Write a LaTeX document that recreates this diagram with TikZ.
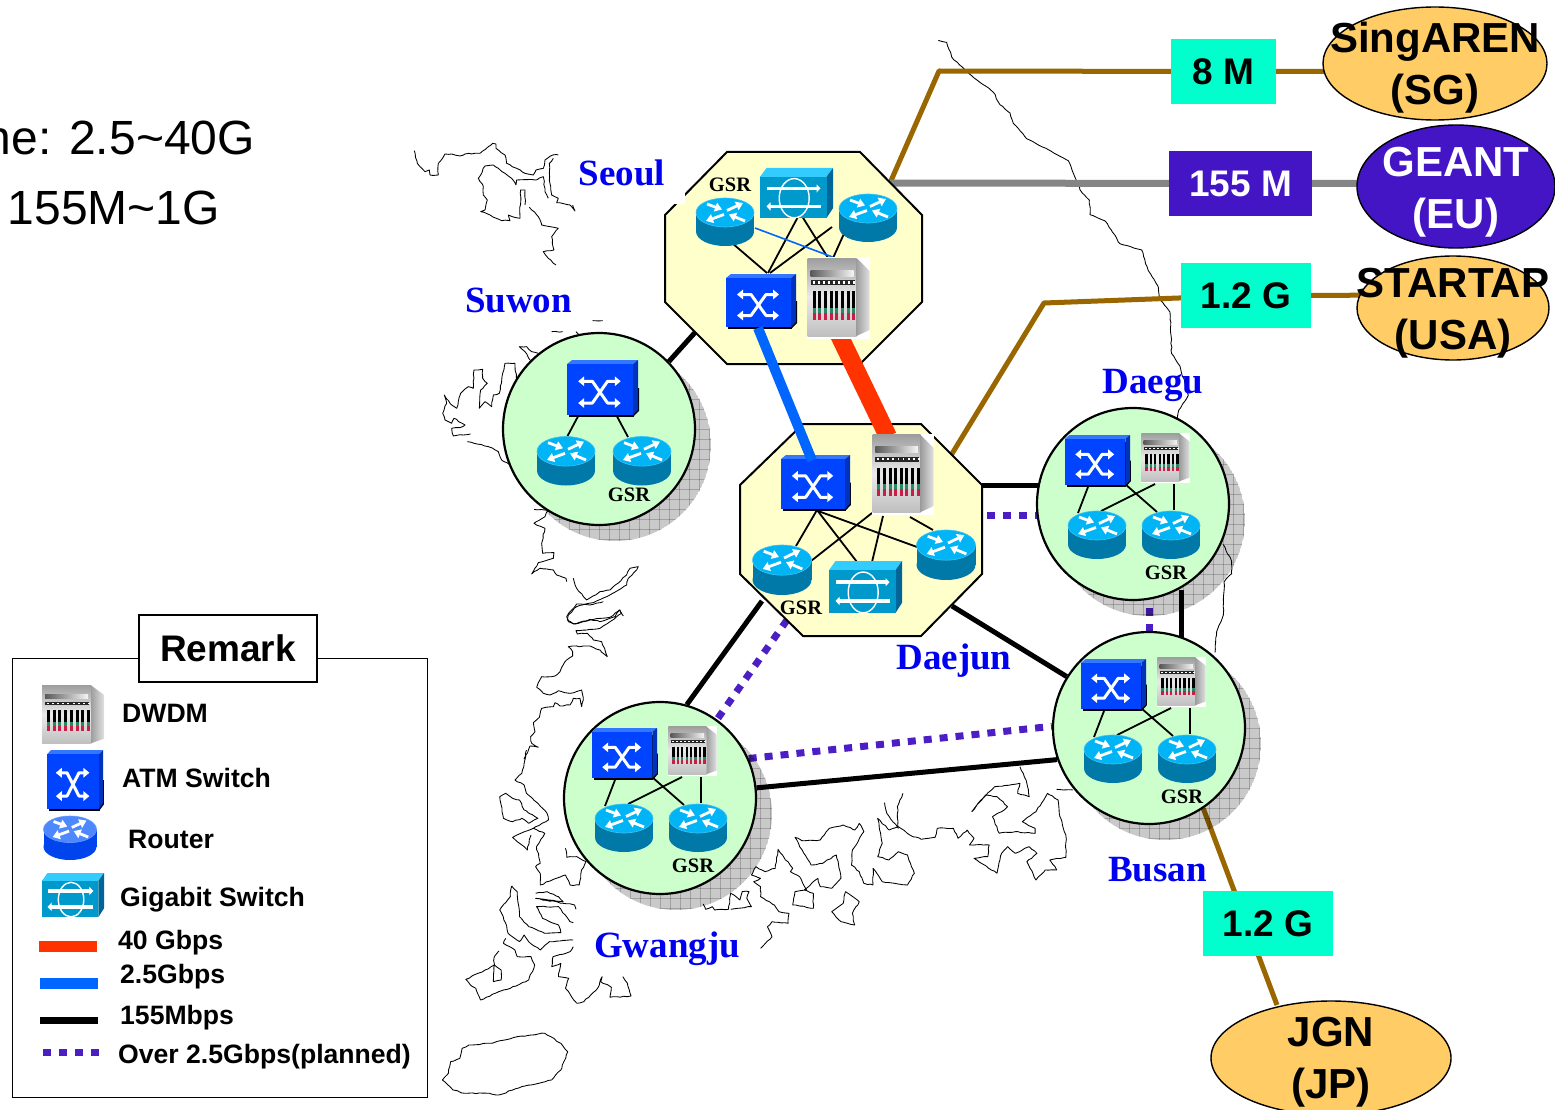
\documentclass[tikz,border=0pt]{standalone}
\usepackage{fontspec}
\setmainfont{Liberation Sans}
\newfontfamily\citysf{Liberation Serif}
\usetikzlibrary{arrows.meta,shapes.geometric,calc,decorations.pathmorphing}
\pgfdeclarelayer{paper}\pgfdeclarelayer{maplayer}\pgfdeclarelayer{trunk}\pgfdeclarelayer{shadowlayer}\pgfdeclarelayer{hublayer}\pgfdeclarelayer{wiring}
\pgfsetlayers{paper,maplayer,trunk,shadowlayer,hublayer,wiring,main}
\definecolor{hubyellow}{HTML}{FFFFCC}
\definecolor{hubgreen}{HTML}{CCFFCC}
\definecolor{linkbrown}{HTML}{996600}
\definecolor{linkgrey}{HTML}{858585}
\definecolor{linkblue}{HTML}{0066FF}
\definecolor{linkred}{HTML}{FF3300}
\definecolor{linkpurple}{HTML}{4C1FC4}
\definecolor{tealbox}{HTML}{00FFCC}
\definecolor{purplebox}{HTML}{4315C4}
\definecolor{peer}{HTML}{FFCC66}
\definecolor{citycol}{HTML}{0000F0}
\definecolor{rtop}{HTML}{00B4F5}
\definecolor{rbody}{HTML}{0078A8}
\definecolor{rrim}{HTML}{40C4F0}
\definecolor{atmfront}{HTML}{0044FF}
\definecolor{atmtop}{HTML}{3377FF}
\definecolor{atmside}{HTML}{0033BB}
\tikzset{
 pics/router/.style={code={
  \fill[rbody] (-29,-9.5) rectangle (29,9.5);
  \fill[rbody] (0,9.5) ellipse (29pt and 14.5pt);
  \fill[rtop,draw=rrim,line width=.6pt] (0,-9.5) ellipse (29pt and 14.5pt);
  \begin{scope}[white,line width=2.8pt,-{Triangle[length=7pt,width=9pt]}]
   \draw (-18,-18)--(-3,-12.5);
   \draw (2,-11.5)--(18,-19);
   \draw (-1,-7.5)--(-19,-1);
   \draw (20,-1)--(4,-7.5);
  \end{scope}
 }},
 pics/atm/.style={code={
  \fill[black] (-33,-20) rectangle (31,28);
  \fill[black] (30,28)--(36,22)--(36,0)--(30,0)--cycle;
  \fill[atmtop] (-35,-23)--(-30,-27)--(35,-27)--(30,-23)--cycle;
  \fill[atmside] (30,-23)--(35,-27)--(35,21)--(30,26)--cycle;
  \fill[atmfront] (-35,-23) rectangle (30,26);
  \begin{scope}[white,line width=3pt,{Triangle[length=6pt,width=9.5pt]}-{Triangle[length=6pt,width=9.5pt]},line join=round]
   \draw (-24,-6.5)--(-10,-6.5)--(5,14.5)--(18,14.5);
   \draw (18,-6.5)--(5,-6.5)--(-10,14.5)--(-24,14.5);
  \end{scope}
 }},
 pics/gigabit/.style={code={
  \fill[fill={rgb,255:red,51;green,204;blue,255}] (-36.5,-16.5)--(-30,-25.5)--(36.5,-25.5)--(30,-16.5)--cycle;
  \fill[fill={rgb,255:red,0;green,102;blue,153}] (30,-16.5)--(36.5,-25.5)--(36.5,15.5)--(30,25.5)--cycle;
  \fill[fill={rgb,255:red,0;green,153;blue,204}] (-36.5,-16.5) rectangle (30,25.5);
  \draw[white,line width=1.4pt] (-2.3,5.3) ellipse (15pt and 20pt);
  \draw[white,line width=3.5pt,-{Triangle[length=4pt,width=8pt]}] (-30,-4.7)--(24,-4.7);
  \draw[white,line width=3.5pt,-{Triangle[length=4pt,width=8pt]}] (24,13.7)--(-30,13.7);
 }},
 pics/dwdm/.style={code={
  \fill[white] (-31.5,-41) rectangle (31.5,41);
  \shade[top color=black!38,bottom color=black!25,middle color=black!8] (-31,-40) rectangle (18,38);
  \shade[left color=black!38,right color=black!12] (18,-40)--(31,-27)--(31,32)--(18,38)--cycle;
  \shade[left color=black!65,right color=black!4] (-28,-28) rectangle (15,-22);
  \fill[black!85] (-28,-18) rectangle (16,-13);
  \foreach \i in {0,...,8} {\fill[white] ({-26+5.1*\i},-16.8) rectangle ({-24+5.1*\i},-14.5);}
  \foreach \i in {0,...,7} {
   \fill[black] ({-26+5.7*\i},-7) rectangle ({-23+5.7*\i},10);
   \fill[fill={rgb,255:red,40;green,135;blue,100}] ({-26+5.7*\i},10) rectangle ({-23+5.7*\i},15);
   \fill[fill={rgb,255:red,200;green,30;blue,70}] ({-26+5.7*\i},15) rectangle ({-23+5.7*\i},22);
  }
 }},
 devbox/.style={inner sep=0pt,outer sep=0pt,draw=none},
 peerbubble/.style={ellipse,draw=black,line width=1.4pt,inner sep=0pt},
 peerlabel/.style={align=center,inner sep=0pt,font=\fontsize{42}{52}\selectfont\bfseries},
 ratebox/.style={inner sep=0pt,font=\fontsize{37}{40}\selectfont\bfseries},
 cityname/.style={text=citycol,inner sep=0pt,font=\fontsize{37}{40}\selectfont\citysf\bfseries},
 gsrtext/.style={inner sep=0pt,font=\fontsize{20.5}{22}\selectfont\citysf\bfseries},
 legendtext/.style={anchor=west,inner sep=0pt,font=\fontsize{26.6}{30}\selectfont\bfseries},
 wire/.style={black,line width=1.8pt},
 link155/.style={black,line width=5pt},
 planned/.style={linkpurple,line width=7pt,dash pattern=on 8pt off 8pt},
 brownline/.style={linkbrown,line width=5pt,line join=round},
 coast/.style={black,line width=.85pt,line join=round,decorate,decoration={random steps,segment length=3.5pt,amplitude=.55pt}},
 stationhub/.style={circle,draw=black,line width=2.2pt,fill=hubgreen,minimum size=192pt,inner sep=0pt},
 hubedge/.style={draw=black,line width=2pt,fill=hubyellow,line join=miter},
}
% type, natural w, natural h, name, position, w, h
\newcommand\putdev[7]{\node[devbox,minimum width=#6,minimum height=#7] (#4) at (#5) {};
 \pic[xscale=#6/#2,yscale=#7/#3] at (#4) {#1};}
\newcommand\Rtr[4]{\putdev{router}{58}{48}{#1}{#2}{#3}{#4}}
\newcommand\Atm[4]{\putdev{atm}{70}{54}{#1}{#2}{#3}{#4}}
\newcommand\Gig[4]{\putdev{gigabit}{73}{51}{#1}{#2}{#3}{#4}}
\newcommand\Dwd[4]{\putdev{dwdm}{63}{82}{#1}{#2}{#3}{#4}}
\newcommand\wirelink[5][wire]{\draw[#1] ([shift={(#3)}]#2.center)--([shift={(#5)}]#4.center);}
\newcommand\dropshadow[1]{\begin{pgfonlayer}{shadowlayer}\begin{scope}[shift={(#1)}]
 \clip (16,16) circle (96pt);
 \fill[black,fill opacity=.21] (16,16) circle (96pt);
 \foreach \k in {-9,...,12} {\draw[black,opacity=.2,line width=.7pt] ({10*\k},-90)--({10*\k},125);
  \draw[black,opacity=.2,line width=.7pt] (-90,{10*\k})--(125,{10*\k});}
 \end{scope}\end{pgfonlayer}}
% name, circle centre, device shift, shift is from the Daegu layout
\newcommand\station[3]{\dropshadow{#2}
 \begin{pgfonlayer}{hublayer}\node[stationhub] (#1) at (#2) {};\end{pgfonlayer}
 \begin{scope}[shift={(#3)},name prefix=#1-]
  \Atm{sw}{1097.5,460.5}{65}{51}
  \Dwd{wd}{1165.5,458}{49}{50}
  \Rtr{ra}{1097,535}{58}{48}
  \Rtr{rb}{1171,535}{58}{48}
  \node[gsrtext] (gsr) at (1166,573) {GSR};
  \begin{pgfonlayer}{wiring}
  \wirelink{sw}{-9.5,26.5}{ra}{-19,-22}
  \wirelink{sw}{27.5,23.5}{rb}{-14,-23}
  \wirelink{wd}{-10.5,26}{ra}{4,-24}
  \wirelink{wd}{8.5,26}{rb}{3,-25}
  \end{pgfonlayer}
 \end{scope}}
\begin{document}
\begin{tikzpicture}[x=1pt,y=-1pt]
\useasboundingbox (0,0) rectangle (1555,1110);
\begin{pgfonlayer}{paper}\fill[white] (0,0) rectangle (1555,1110);\end{pgfonlayer}

% ---------- map of the peninsula
\begin{pgfonlayer}{maplayer}
\begin{scope}[shift={(410,130)},x=.3333pt,y=-.3333pt,every path/.style={coast}]
\draw (13,62)--(22,100)--(45,125)--(58,120)--(60,135)--(85,135)--(85,100)--(105,72)--(125,72)--(150,78)--(165,72)--(210,70)--(248,40)--(258,42)--(258,55)--(285,75)--(290,100)--(320,115)--(345,130)--(370,135)--(378,120)--(400,115)--(405,90)--(428,75)--(445,75);
\draw (430,85)--(418,100)--(418,150)--(425,195)--(445,205)--(440,218)--(480,225)--(495,243)--(488,225);
\draw (415,205)--(405,185)--(400,140)--(375,150)--(320,150)--(318,165)--(305,145)--(285,130)--(265,115)--(250,105)--(225,108)--(205,145)--(220,170)--(220,195)--(232,210)--(225,240)--(212,245)--(240,255)--(275,272)--(300,272)--(295,255)--(330,265)--(332,180)--(345,180)--(345,225);
\draw (358,232)--(385,260)--(395,285)--(420,290)--(445,295)--(425,320)--(432,360)--(400,365)--(415,385)--(438,405);
\draw (300,1005)--(275,990)--(265,965)--(235,950)--(172,935);
\draw (182,912)--(130,918)--(125,895)--(150,893)--(165,885)--(132,865)--(125,880)--(105,870)--(98,850)--(110,820)--(103,795)--(125,825)--(140,835)--(152,790)--(175,770)--(190,775)--(192,720)--(218,718)--(218,745)--(232,760)--(212,780)--(208,835)--(225,815)--(245,830)--(250,795)--(268,790)--(285,700)--(315,700)--(320,750);
\draw (385,670)--(365,665)--(350,650)--(328,650)--(345,665)--(360,690);
\draw (425,605)--(458,605);
\draw (548,572)--(578,572);
\draw (498,605)--(505,612);
\draw (372,1138)--(415,1140)--(405,1160)--(372,1180)--(405,1195)--(395,1240)--(398,1270)--(432,1268)--(430,1285)--(385,1298)--(365,1332)--(390,1315)--(430,1320)--(440,1335)--(468,1345)--(470,1355);
\draw (490,1345)--(500,1375)--(530,1410)--(570,1385)--(600,1380)--(650,1335)--(660,1315)--(685,1310)--(680,1320)--(655,1345)--(650,1365)--(600,1395)--(550,1418)--(500,1430)--(475,1455)--(472,1470)--(490,1482)--(540,1470)--(600,1462)--(630,1440)--(640,1458);
\end{scope}
\begin{scope}[shift={(500,600)},x=.3333pt,y=-.3333pt,every path/.style={coast}]
\draw (310,5)--(270,15)--(230,12)--(215,30)--(200,50)--(205,65)--(225,72)--(270,58)--(300,65)--(345,50)--(358,30)--(365,40)--(350,50)--(330,65)--(300,85)--(228,92)--(232,102)--(262,100)--(280,120)--(305,125)--(315,150)--(322,170)--(300,150)--(270,138)--(205,140)--(218,155)--(218,168)--(195,185)--(180,215)--(165,228)--(125,230)--(110,262)--(130,280)--(150,285)--(175,272)--(210,280)--(245,270)--(250,300)--(245,320)--(240,295)--(220,295)--(210,315)--(180,318)--(165,308)--(160,320)--(125,325)--(118,352)--(100,368)--(105,395)--(92,410)--(95,430)--(115,442)--(90,438)--(72,478);
\end{scope}
\begin{scope}[shift={(430,750)},x=.4591pt,y=-.3333pt,every path/.style={coast}]
\draw (210,0)--(205,40)--(200,70)--(185,90)--(205,105)--(210,130)--(235,160)--(255,190)--(258,210)--(225,235)--(250,250)--(232,290)--(240,340)--(230,350)--(240,370)--(240,405)--(275,385)--(295,375)--(305,405)--(325,405)--(330,360)--(340,335)--(320,320)--(298,322)--(295,295);
\draw (152,140)--(155,165)--(160,205)--(180,215)--(200,205)--(215,220)--(235,205)--(205,180)--(195,150)--(180,145)--(165,130)--cycle;
\draw (225,235)--(180,262)--(205,290)--(212,300)--(220,255);
\draw (178,408)--(190,425)--(195,500)--(215,530)--(250,550)--(285,548)--(280,525)--(245,505)--(232,470)--(280,470)--(305,515)--(312,518);
\draw (230,430)--(255,425)--(280,440)--(290,455)--(230,445)--(290,460)--(315,465)--(318,478);
\draw (178,408)--(175,440)--(152,480)--(165,520)--(170,550)--(195,575)--(205,555)--(215,575)--(240,600)--(260,575)--(312,570);
\draw (165,565)--(160,580)--(185,600)--(190,620)--(220,620)--(228,645)--(215,690)--(175,715)--(150,725)--(110,750)--(100,715)--(88,705)--(78,688)--(120,660)--(140,645)--(155,660)--(155,690)--(138,695)--(140,620)--(150,603);
\draw (312,590)--(305,605)--(268,620)--(265,650)--(285,640)--(280,680)--(302,685)--(295,715)--(320,760)--(335,755)--(350,735)--(365,715)--(375,680)--(372,695)--(395,712)--(392,742)--(438,738)--(430,700)--(420,680);
\draw (595,462)--(600,478)--(615,470)--(620,480)--(650,478)--(655,430)--(675,450)--(680,425)--(695,425)--(690,445)--(700,470)--(670,475)--(655,478);
\draw (710,350)--(730,365)--(752,355)--(758,298)--(770,320)--(790,355)--(785,365)--(805,380)--(820,420)--(795,425)--(790,465)--(835,475)--(835,430)--(815,420)--(845,385)--(850,410)--(875,415)--(895,385)--(890,345)--(885,315)--(855,340)--(830,345)--(805,290)--(795,262)--(810,272)--(850,270)--(870,235)--(900,225)--(925,240)--(935,220)--(945,245)--(920,300)--(918,345)--(935,365)--(945,400)--(965,405)--(965,355)--(985,395)--(1040,405)--(1055,370)--(1040,315)--(1020,305)--(1000,330)--(975,320)--(985,280)--(975,205)--(1000,240)--(1020,230)--(1045,255)--(1070,268)--(1100,262)--(1105,235)--(1140,235)--(1150,265)--(1170,240)--(1185,265)--(1175,285)--(1218,285)--(1215,320)--(1185,325)--(1235,370)--(1245,310)--(1258,290)--(1275,310)--(1305,290)--(1322,310)--(1300,335)--(1320,390)--(1340,360)--(1365,360)--(1350,330)--(1385,322)--(1385,255)--(1372,200)--(1368,150)--(1345,130)--(1320,185)--(1290,215)--(1318,235)--(1318,250)--(1275,245)--(1240,250)--(1225,200)--(1245,185)--(1258,170)--(1235,140)--(1210,135)--(1180,185)--(1200,150)--(1230,110)--(1285,100)--(1280,130)--(1305,140)--(1300,100)--(1285,50);
\draw (990,158)--(995,190)--(1020,235)--(1018,170)--(1030,130);
\draw (1365,118)--(1400,120);
\draw (710,350)--(700,375)--(720,385)--(705,395)--(720,410)--(720,440)--(750,465)--(760,485)--(782,490)--(780,520)--(745,515)--(735,530)--(745,560)--(720,595);
\draw (905,425)--(935,455)--(920,490)--(925,525)--(895,515)--(875,485)--(900,460)--cycle;
\draw (27,990)--(40,970)--(45,935)--(65,925)--(70,895)--(85,885)--(130,880)--(190,860)--(250,850)--(285,880)--(300,905)--(285,960)--(265,990)--(200,1010)--(150,1035)--(130,1030)--(75,1030)--(50,1020)--cycle;
\end{scope}
\begin{scope}[shift={(930,30)},x=.3333pt,y=-.415pt,every path/.style={coast}]
\draw (25,25)--(50,30)--(65,65)--(90,85)--(125,110)--(190,150)--(210,180)--(240,200)--(250,225)--(290,262)--(380,300)--(415,315)--(435,355)--(450,385)--(478,410)--(480,445)--(525,460)--(570,515)--(635,530)--(655,580)--(685,620)--(690,650)--(720,680)--(725,780)--(750,810)--(775,880)--(745,920)--(742,935);
\draw (880,1240)--(905,1280)--(905,1310)--(882,1330)--(880,1410)--(860,1450)--(855,1500);
\end{scope}
\end{pgfonlayer}

% ---------- side text
\node[anchor=base east,inner sep=0pt,font=\fontsize{48}{50}\selectfont] (bbtext) at (255,155) {ne: 2.5\textasciitilde 40G};
\node[anchor=base east,inner sep=0pt,font=\fontsize{48}{50}\selectfont] (actext) at (220,225) {155M\textasciitilde 1G};

% ---------- hubs
\begin{pgfonlayer}{hublayer}
\node[devbox,minimum width=257,minimum height=212] (seoul) at (793.5,258) {};
\draw[hubedge] (727,152)--(860,152)--(922,215)--(922,302)--(860,364)--(727,364)--(665,302)--(665,215)--cycle;
\fill[white] (655,178) rectangle (685,204);
\node[devbox,minimum width=242,minimum height=212] (daejun) at (861,530) {};
\draw[hubedge] (803,424)--(921,424)--(982,485)--(982,574)--(921,636)--(803,636)--(740,574)--(740,485)--cycle;
\end{pgfonlayer}

% ---------- Seoul devices
\Gig{seoulgig}{796.5,193}{73}{50}
\Rtr{seoulra}{725,222}{58}{48}
\Rtr{seoulrb}{868,218}{58}{48}
\Atm{seoulsw}{761,301}{70}{54}
\Dwd{seoulwd}{838.5,298}{63}{82}
\node[gsrtext] (seoulgsr) at (730,185) {GSR};
\begin{pgfonlayer}{wiring}
\wirelink{seoulra}{7,21}{seoulsw}{6,-28}
\wirelink{seoulgig}{3.5,20}{seoulsw}{7,-28}
\wirelink{seoulrb}{-36,9}{seoulsw}{9,-28}
\wirelink{seoulgig}{3.5,20}{seoulwd}{-11,-41}
\wirelink{seoulrb}{-21,9}{seoulwd}{-5,-41}
\wirelink[linkblue,line width=1.6pt]{seoulra}{30,6}{seoulwd}{-6,-41}
\end{pgfonlayer}

% ---------- Daejun devices
\Atm{daejunsw}{815.5,482.5}{69}{55}
\Dwd{daejunwd}{903,474.5}{62}{81}
\Gig{daejungig}{865.5,587}{73}{52}
\Rtr{daejunra}{782,570}{59}{50}
\Rtr{daejunrb}{946,555}{59}{50}
\node[gsrtext] (daejungsr) at (801,608) {GSR};
\begin{pgfonlayer}{wiring}
\wirelink{daejunsw}{1.5,27.5}{daejunra}{14,-24}
\wirelink{daejunsw}{1.5,27.5}{daejungig}{-8.5,-25}
\wirelink{daejunsw}{2.5,28.5}{daejunrb}{-29,-8}
\wirelink{daejunwd}{-31,38.5}{daejunra}{29,-9}
\wirelink{daejunwd}{-20,41.5}{daejungig}{6.5,-25}
\wirelink{daejunwd}{7,42.5}{daejunrb}{-13,-25}
\end{pgfonlayer}

% ---------- Suwon
\dropshadow{599,429}
\begin{pgfonlayer}{hublayer}\node[stationhub] (suwon) at (599,429) {};\end{pgfonlayer}
\Atm{suwonsw}{602.5,388}{71}{56}
\Rtr{suwonra}{566,461}{58}{49}
\Rtr{suwonrb}{642,461}{58}{49}
\node[gsrtext] (suwongsr) at (629,495) {GSR};
\begin{pgfonlayer}{wiring}
\wirelink{suwonsw}{-19.5,19}{suwonra}{1,-24}
\wirelink{suwonsw}{9.5,19}{suwonrb}{-14,-24}
\end{pgfonlayer}

% ---------- the three stations of one layout
\station{daegu}{1133,504}{0,0}
\station{busan}{1149,728}{16,224}
\station{gwangju}{660,798}{-473,293}

% ---------- rate boxes and peers
\node[ratebox,fill=tealbox,minimum width=105,minimum height=65] (rate8) at (1223.5,71.5) {8 M};
\node[ratebox,fill=purplebox,text=white,minimum width=143,minimum height=65] (rate155) at (1240.5,183.5) {155 M};
\node[ratebox,fill=tealbox,minimum width=130,minimum height=65] (rateus) at (1246,295.5) {1.2 G};
\node[ratebox,fill=tealbox,minimum width=130,minimum height=65] (ratejp) at (1268,923.5) {1.2 G};
\node[peerbubble,fill=peer,minimum width=224,minimum height=113] (sing) at (1435,63.5) {};
\node[peerlabel] (singtext) at (1435,68) {SingAREN\\(SG)};
\node[peerbubble,fill=purplebox,minimum width=198,minimum height=123] (geant) at (1456,186.5) {};
\node[peerlabel,text=white] (geanttext) at (1456,192) {GEANT\\(EU)};
\node[peerbubble,fill=peer,minimum width=192,minimum height=104] (startap) at (1453,308) {};
\node[peerlabel] (startext) at (1453,313) {STARTAP\\(USA)};
\node[peerbubble,fill=peer,minimum width=240,minimum height=114] (jgn) at (1331,1058) {};
\node[peerlabel] (jgntext) at (1331,1062) {JGN\\(JP)};

% ---------- trunks
\coordinate (bendsg) at (939,71);
\coordinate (bendus) at (1044,303);
\begin{pgfonlayer}{trunk}
\draw[link155] ([shift={(-98.5,74.5)}]seoul.center)--(suwon.44);
\draw[brownline] ([shift={(96.5,-75)}]seoul.center)--(bendsg)--(rate8.center)--(rate8.center -| sing.center);
\draw[linkgrey,line width=7pt] ([shift={(96.5,-75)}]seoul.center)--(rate155.center)--(rate155.center -| geant.center);
\draw[brownline] ([shift={(89,-73)}]daejun.center)--(bendus)--(rateus.center)--([shift={(0,-13)}]startap.center);
\draw[brownline] (busan.-56)--([shift={(-54,-53)}]jgn.center);
\draw[link155] ([shift={(121,-45)}]daejun.center)--([shift={(-93,-19)}]daegu.center);
\draw[planned] ([shift={(126,-15)}]daejun.center)--([shift={(-93,11)}]daegu.center);
\draw[link155] ([shift={(91,76)}]daejun.center)--(busan.148);
\draw[link155] ([shift={(-99,71)}]daejun.center)--(gwangju.74);
\draw[planned] ([shift={(-74,90)}]daejun.center)--(gwangju.54);
\draw[link155] (gwangju.6.5)--(busan.199);
\draw[planned] (gwangju.24.4)--(busan.179.4);
\draw[link155] ([shift={(48,86)}]daegu.center)--([shift={(32,-88)}]busan.center);
\draw[planned,dash phase=8pt] ([shift={(16,96)}]daegu.center)--([shift={(0,-88)}]busan.center);
\end{pgfonlayer}
\begin{pgfonlayer}{wiring}
\draw[linkred,line width=18pt] ([shift={(.5,37)}]seoulwd.center)--([shift={(-15,-38)}]daejunwd.center);
\end{pgfonlayer}
\draw[linkblue,line width=10pt] ([shift={(-3,27)}]seoulsw.center)--([shift={(-3.5,-22)}]daejunsw.center);

% ---------- city names
\node[cityname] (nseoul) at (622,173) {Seoul};
\node[cityname] (nsuwon) at (518.5,300) {Suwon};
\node[cityname] (ndaegu) at (1153,385) {Daegu};
\node[cityname] (ndaejun) at (954,661) {Daejun};
\node[cityname] (nbusan) at (1157.5,870) {Busan};
\node[cityname] (ngwangju) at (667,949) {Gwangju};

% ---------- legend
\node[devbox,draw=black,line width=1pt,minimum width=415,minimum height=439,fill=white] (legend) at (219.5,877.5) {};
\node[draw=black,line width=1.8pt,fill=white,minimum width=178,minimum height=67,inner sep=0pt,font=\fontsize{37}{40}\selectfont\bfseries] (remark) at (228,648.5) {Remark};
\Dwd{legwd}{73,715}{63}{61}
\Atm{legsw}{75,780}{56}{60}
\begin{scope}
\definecolor{rtop}{HTML}{4D88FF}\definecolor{rbody}{HTML}{0044EE}\definecolor{rrim}{HTML}{6699FF}
\Rtr{legr}{70,838}{53}{44}
\end{scope}
\Gig{leggig}{73,895}{62}{44}
\node[legendtext] (ldwdm) at (122,713) {DWDM};
\node[legendtext] (latm) at (122,778) {ATM Switch};
\node[legendtext] (lrouter) at (128,839) {Router};
\node[legendtext] (lgig) at (120,900) {Gigabit Switch};
\node[legendtext] (l40) at (118,943) {40 Gbps};
\node[legendtext] (l25) at (120,977) {2.5Gbps};
\node[legendtext] (l155) at (120,1018) {155Mbps};
\node[legendtext] (lover) at (118,1057) {Over 2.5Gbps(planned)};
\coordinate (k40a) at (39,946); \coordinate (k40b) at (97,946);
\coordinate (k25a) at (40,983); \coordinate (k25b) at (98,983);
\coordinate (k155a) at (40,1020); \coordinate (k155b) at (98,1020);
\coordinate (kpa) at (43,1052); \coordinate (kpb) at (102,1052);
\draw[linkred,line width=11pt] (k40a)--(k40b);
\draw[linkblue,line width=11pt] (k25a)--(k25b);
\draw[black,line width=7pt] (k155a)--(k155b);
\draw[planned] (kpa)--(kpb);
\end{tikzpicture}
\end{document}
